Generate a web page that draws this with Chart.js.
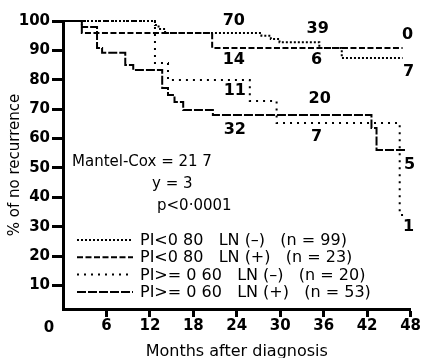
<!DOCTYPE html>
<html>
<head>
<meta charset="utf-8">
<script src="https://cdn.jsdelivr.net/npm/chart.js@4.4.0/dist/chart.umd.min.js"></script>
<style>
body{margin:0;background:#fff}
</style>
</head>
<body>
<canvas id="myGraph" width="421" height="358"></canvas>
<script>
// Kaplan-Meier curves, months after diagnosis vs % free of recurrence
const monthsA=[0,12.7,13.2,14.1,27.4,28.7,29.9,35.4,38.5,46.9]
const survA=[100,98.6,97.3,95.9,95,93.9,92.8,90.8,87.4,87.4]
const monthsB=[0,2.6,20.6,46.9]
const survB=[100,95.9,90.8,90.8]
const monthsC=[0,12.7,14.5,25.8,29.5,46.5,47.2]
const survC=[100,85.7,79.9,72.8,65.3,34,34]
const monthsD=[0,2.6,4.7,5.4,8.6,9.7,13.7,14.5,15.4,16.6,20.7,42.6,43.3,47.4]
const survD=[100,98,90.8,89.2,85,83.3,77.2,74.8,72.4,69.7,68,63.6,56.1,56.1]

const legendLabels=['PI<0 80   LN (–)   (n = 99)','PI<0 80   LN (+)   (n = 23)','PI>= 0 60   LN (–)   (n = 20)','PI>= 0 60   LN (+)   (n = 53)']
const xTicks=[6,12,18,24,30,36,42,48]
const yTicks=[10,20,30,40,50,60,70,80,90,100]

// patients at risk
const riskMonths=[24,36,48]
const riskA=[70,39,7]
const riskB=[14,6,0]
const riskC=[11,7,1]
const riskD=[32,20,5]

const statLines=['Mantel-Cox = 21 7','y = 3','p<0·0001']

const font='"DejaVu Sans"'

function toPoints(months,values){
    return months.map((m,i)=>({x:m,y:values[i]}))
}

function curve(label,months,values,dash){
    return {
        label:label,
        data:toPoints(months,values),
        borderColor:'#000',
        borderWidth:2,
        borderDash:dash,
        stepped:true,
        pointRadius:0,
        fill:false,
        clip:false
    }
}

// where the at-risk numbers sit: pixel shift in x, % value in y
const riskSpots=[
    [[-3,100],[-6,97.3],[-2,82.6]],
    [[-3,86.7],[-7,86.7],[-3,95.2]],
    [[-2,76.2],[-7,60.5],[-2,29.9]],
    [[-2,62.9],[-4,73.5],[-1,51]]
]

const extras={
    id:'extras',
    afterDraw(chart){
        const ctx=chart.ctx
        const xs=chart.scales.x
        const ys=chart.scales.y
        ctx.save()
        ctx.fillStyle='#000'
        ctx.textBaseline='middle'
        ctx.textAlign='left'
        ctx.font='15px '+font
        ctx.fillText(statLines[0],72,162)
        ctx.fillText(statLines[1],152,184)
        ctx.fillText(statLines[2],157,206)

        ctx.font='16px '+font
        chart.data.datasets.forEach((ds,i)=>{
            const y=240+i*17.3
            ctx.strokeStyle=ds.borderColor
            ctx.lineWidth=ds.borderWidth
            ctx.setLineDash(ds.borderDash)
            ctx.beginPath()
            ctx.moveTo(77,y)
            ctx.lineTo(133,y)
            ctx.stroke()
            ctx.setLineDash([])
            ctx.fillText(ds.label,140,y+1)
        })

        ctx.font='bold 16px '+font
        ctx.textAlign='center'
        const risks=[riskA,riskB,riskC,riskD]
        risks.forEach((r,i)=>{
            r.forEach((n,j)=>{
                const spot=riskSpots[i][j]
                ctx.fillText(String(n),xs.getPixelForValue(riskMonths[j])+spot[0],ys.getPixelForValue(spot[1]))
            })
        })

        ctx.font='bold 15px '+font
        ctx.fillText('0',49,328)
        ctx.restore()
    }
}

let myGraph=document.getElementById('myGraph').getContext('2d')
let chart=new Chart(myGraph,{
    type:'line',
    data:{
        datasets:[
            curve(legendLabels[0],monthsA,survA,[2,2]),
            curve(legendLabels[1],monthsB,survB,[6,2.5]),
            curve(legendLabels[2],monthsC,survC,[2,5]),
            curve(legendLabels[3],monthsD,survD,[9,2])
        ]
    },
    plugins:[extras],
    options:{
        responsive:false,
        animation:false,
        layout:{padding:{left:0,top:21,right:10,bottom:0}},
        plugins:{
            legend:{display:false},
            tooltip:{enabled:false}
        },
        scales:{
            x:{
                type:'linear',
                min:0,
                max:48,
                afterBuildTicks:axis=>{axis.ticks=xTicks.map(v=>({value:v}))},
                afterFit:axis=>{axis.height=49},
                grid:{drawOnChartArea:false,tickLength:8,tickWidth:3,tickColor:'#000'},
                border:{color:'#000',width:3},
                ticks:{color:'#000',padding:0,maxRotation:0,font:{family:'DejaVu Sans',size:15,weight:'bold'}},
                title:{display:true,text:'Months after diagnosis',color:'#000',padding:{top:0,bottom:-3},font:{family:'DejaVu Sans',size:16}}
            },
            y:{
                min:2,
                max:100,
                afterBuildTicks:axis=>{axis.ticks=yTicks.map(v=>({value:v}))},
                afterFit:axis=>{axis.width=63},
                grid:{drawOnChartArea:false,tickLength:11,tickWidth:3,tickColor:'#000'},
                border:{color:'#000',width:3},
                ticks:{color:'#000',padding:2,font:{family:'DejaVu Sans',size:15,weight:'bold'}},
                title:{display:true,text:'% of no recurrence',color:'#000',padding:{top:6,bottom:0},font:{family:'DejaVu Sans',size:15}}
            }
        }
    }
})
</script>
</body>
</html>
